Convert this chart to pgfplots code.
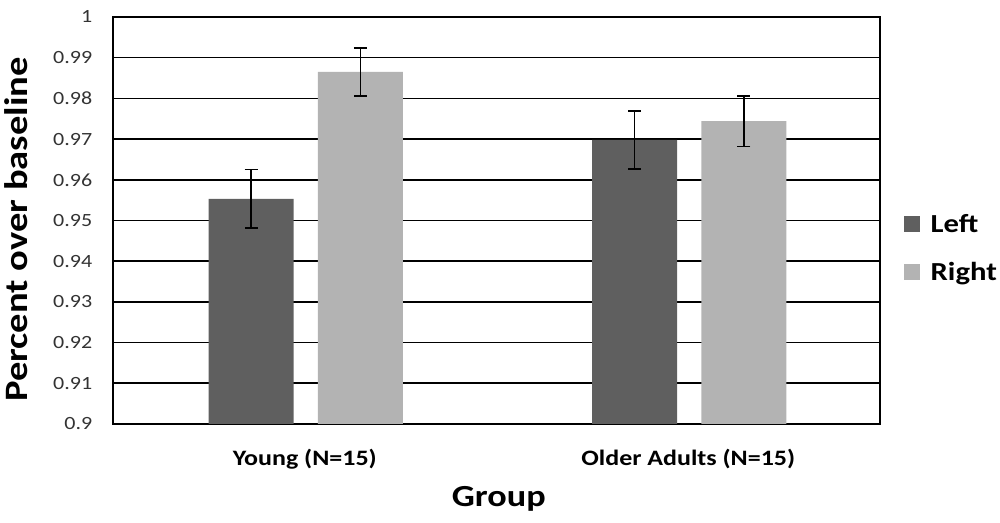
\documentclass[border=0pt]{standalone}
\usepackage{pgfplots}
\pgfplotsset{compat=1.18}
\usepackage{fontspec}
\setmainfont{Carlito}[FakeStretch=1.18]
\definecolor{darkbar}{HTML}{5F5F5F}
\definecolor{lightbar}{HTML}{B3B3B3}
\begin{document}
\begin{tikzpicture}
\useasboundingbox (-84.75pt,-74.25pt) rectangle (665.25pt,318pt);
\begin{axis}[
  at={(0,0)}, anchor=south west,
  scale only axis,
  width=575.25pt, height=305.25pt,
  xmin=-0.5, xmax=1.5,
  ymin=0.9, ymax=1,
  ybar, bar width=0.2216,
  xtick={0,1},
  xticklabels={Young (N=15), Older Adults (N=15)},
  ytick={0.9,0.91,0.92,0.93,0.94,0.95,0.96,0.97,0.98,0.99,1},
  yticklabels={0.9,0.91,0.92,0.93,0.94,0.95,0.96,0.97,0.98,0.99,1},
  major tick length=0pt,
  ymajorgrids,
  grid style={black, line width=1.2pt},
  axis line style={black, line width=1.5pt},
  /pgf/number format/assume math mode=true,
  yticklabel style={font=\fontsize{14pt}{16pt}\selectfont, xshift=-12pt, text=black!80},
  xticklabel style={font=\bfseries\fontsize{16.5pt}{18pt}\selectfont, yshift=-15pt},
  xlabel={Group},
  ylabel={Percent over baseline},
  xlabel style={font=\bfseries\fontsize{23pt}{25pt}\selectfont, at={(axis description cs:0.503,-0.184)}, anchor=center},
  ylabel style={font=\bfseries\fontsize{24.5pt}{26pt}\selectfont, at={(axis description cs:-0.126,0.478)}, anchor=center},
  legend style={at={(axis description cs:1.031,0.523)}, anchor=north west, draw=none, fill=none,
    font=\bfseries\fontsize{19.5pt}{21pt}\selectfont, row sep=17pt, inner sep=0pt,
    /tikz/every odd column/.append style={column sep=6pt}},
  legend cell align=left,
  legend image code/.code={\fill[#1] (0pt,-6pt) rectangle (12pt,6pt);},
  error bars/error bar style={black, line width=1.2pt},
  error bars/error mark options={rotate=90, mark size=4.9pt, line width=1.2pt, black},
  clip=false,
]
\addplot[fill=darkbar, draw=none, bar shift=-0.14,
  error bars/.cd, y dir=both, y explicit]
  coordinates {(0,0.9553) +- (0,0.0072) (1,0.9698) +- (0,0.0071)};
\addlegendentry{Left}
\addplot[fill=lightbar, draw=none, bar shift=0.145,
  error bars/.cd, y dir=both, y explicit]
  coordinates {(0,0.9865) +- (0,0.0059) (1,0.9744) +- (0,0.0062)};
\addlegendentry{Right}
\end{axis}
\end{tikzpicture}
\end{document}
